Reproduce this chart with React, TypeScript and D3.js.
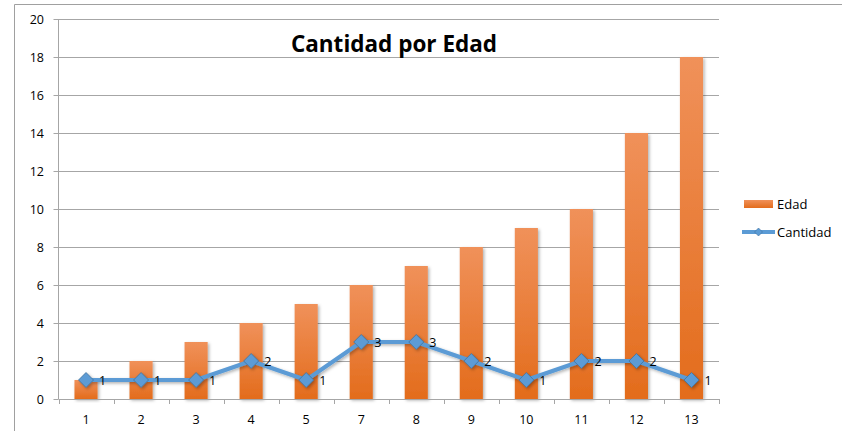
import React from "react";
import * as d3 from "d3";

const categories = ["1", "2", "3", "4", "5", "7", "8", "9", "10", "11", "12", "13"];
const edadValues = [1, 2, 3, 4, 5, 6, 7, 8, 9, 10, 14, 18];
const cantidadValues = [1, 1, 1, 2, 1, 3, 3, 2, 1, 2, 2, 1];
const yTicks = [0, 2, 4, 6, 8, 10, 12, 14, 16, 18, 20];

const W = 842, H = 431;
const plot = { left: 58.5, right: 719, top: 19, bottom: 399 };
const FONT = "'Open Sans', 'Noto Sans', 'DejaVu Sans', sans-serif";

export default function App() {
  const x = d3.scaleBand<string>().domain(categories).range([plot.left, plot.right]).paddingInner(0.58).paddingOuter(0.29);
  const xb = d3.scaleBand<string>().domain(categories).range([plot.left, plot.right]);
  const y = d3.scaleLinear().domain([0, 20]).range([plot.bottom, plot.top]);
  const line = d3.line<number>().x((_, i) => xb(categories[i])! + xb.bandwidth() / 2).y((d) => y(d));
  const diamond = (cx: number, cy: number, r: number) => `M${cx},${cy - r}L${cx + r},${cy}L${cx},${cy + r}L${cx - r},${cy}Z`;
  const gridColor = "#A6A6A6";

  return (
    <svg width={W} height={H} style={{ position: "absolute", left: 0, top: 0, background: "#fff" }} fontFamily={FONT}>
      <defs>
        <linearGradient id="barGrad" x1="0" y1="0" x2="0" y2="1">
          <stop offset="0%" stopColor="#F0915A" />
          <stop offset="100%" stopColor="#E36C1C" />
        </linearGradient>
        <filter id="shadow" x="-30%" y="-10%" width="160%" height="130%">
          <feDropShadow dx="1.5" dy="1.5" stdDeviation="1.5" floodColor="#000" floodOpacity="0.3" />
        </filter>
      </defs>
      <rect x={0} y={0} width={W} height={H} fill="#fff" />
      {/* outer border */}
      <path d={`M14.5,${H}V4.5H${W}`} fill="none" stroke="#A0A0A0" strokeWidth={1} />

      {/* gridlines */}
      {yTicks.map((t) => (
        <g key={t}>
          {t > 0 && <line x1={plot.left} x2={plot.right} y1={Math.round(y(t)) + 0.5} y2={Math.round(y(t)) + 0.5} stroke={gridColor} />}
          <line x1={plot.left - 5} x2={plot.left} y1={Math.round(y(t)) + 0.5} y2={Math.round(y(t)) + 0.5} stroke={gridColor} />
          <text x={44} y={y(t) + 4.5} textAnchor="end" fontSize={12.5} fill="#000">{t}</text>
        </g>
      ))}

      {/* title */}
      <text x={394} y={52} textAnchor="middle" fontSize={22.5} fontWeight="bold" fill="#000">Cantidad por Edad</text>

      {/* bars */}
      {edadValues.map((v, i) => (
        <rect key={i} x={x(categories[i])} y={y(v)} width={x.bandwidth()} height={y(0) - y(v)} fill="url(#barGrad)" filter="url(#shadow)" />
      ))}

      {/* axes */}
      <line x1={plot.left} x2={plot.left} y1={plot.top} y2={plot.bottom} stroke={gridColor} />
      <line x1={plot.left} x2={plot.right} y1={plot.bottom + 0.5} y2={plot.bottom + 0.5} stroke={gridColor} />
      {categories.map((c, i) => (
        <line key={"t" + i} x1={Math.round(xb(c)!) + 0.5} x2={Math.round(xb(c)!) + 0.5} y1={plot.bottom} y2={plot.bottom + 5} stroke={gridColor} />
      ))}
      <line x1={plot.right + 0.5} x2={plot.right + 0.5} y1={plot.bottom} y2={plot.bottom + 5} stroke={gridColor} />
      {categories.map((c) => (
        <text key={"l" + c} x={xb(c)! + xb.bandwidth() / 2} y={423.5} textAnchor="middle" fontSize={12.5} fill="#000">{c}</text>
      ))}

      {/* line series */}
      <g filter="url(#shadow)">
        <path d={line(cantidadValues)!} fill="none" stroke="#5B9BD5" strokeWidth={4} strokeLinejoin="round" />
        {cantidadValues.map((v, i) => {
          const cx = xb(categories[i])! + xb.bandwidth() / 2;
          return <path key={i} d={diamond(cx, y(v), 7.5)} fill="#5B9BD5" stroke="#41719C" strokeWidth={0.8} />;
        })}
      </g>
      {cantidadValues.map((v, i) => {
        const cx = xb(categories[i])! + xb.bandwidth() / 2;
        return <text key={"d" + i} x={cx + 13} y={y(v) + 5} fontSize={12.5} fill="#000">{v}</text>;
      })}

      {/* legend */}
      <rect x={744} y={200} width={29} height={8} fill="url(#barGrad)" />
      <text x={777} y={209} fontSize={13} fill="#000">Edad</text>
      <line x1={742} x2={775} y1={232} y2={232} stroke="#5B9BD5" strokeWidth={4} />
      <path d={diamond(758.5, 232, 4)} fill="#5B9BD5" stroke="#41719C" strokeWidth={0.6} />
      <text x={777} y={237} fontSize={13} fill="#000">Cantidad</text>
    </svg>
  );
}
